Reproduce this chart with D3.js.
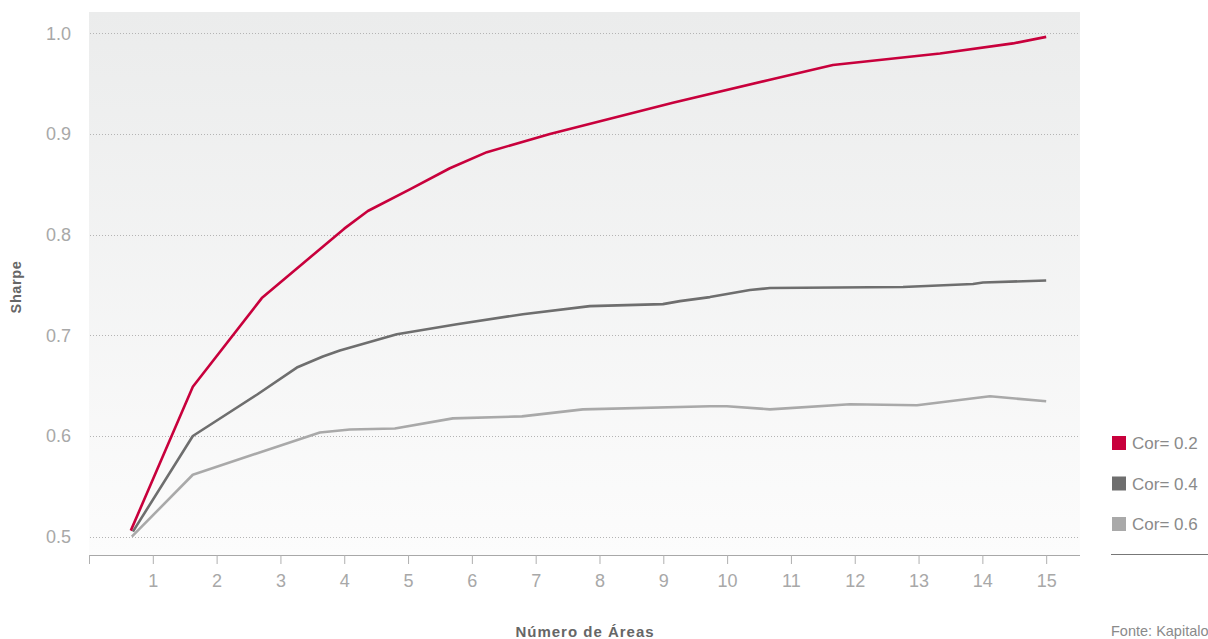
<!DOCTYPE html>
<html>
<head>
<meta charset="utf-8">
<script src="https://cdn.jsdelivr.net/npm/d3@7"></script>
<style>
  html, body { margin: 0; padding: 0; background: #ffffff; }
  svg { display: block; font-family: "Liberation Sans", Arial, Helvetica, sans-serif; }
</style>
</head>
<body>
<svg id="chart" width="1208" height="639"></svg>
<script>
// Sharpe ratio by number of areas, for three correlation levels
const seriesNames = ["Cor= 0.2", "Cor= 0.4", "Cor= 0.6"];

const areasCor02 = [0.655, 1.627, 2.708, 4.00, 4.370, 5.028, 5.655, 6.235, 7.223, 9.150, 10.671, 11.658, 13.335, 14.480, 15.0];
const sharpeCor02 = [0.506, 0.649, 0.737, 0.806, 0.8235, 0.845, 0.866, 0.882, 0.900, 0.931, 0.954, 0.9685, 0.980, 0.990, 0.9965];

const areasCor04 = [0.688, 1.627, 2.630, 3.257, 3.665, 3.931, 4.824, 5.765, 6.799, 7.849, 8.994, 9.260, 9.730, 10.357, 10.671, 12.756, 13.853, 14.010, 15.0];
const sharpeCor04 = [0.505, 0.600, 0.641, 0.668, 0.679, 0.685, 0.701, 0.711, 0.721, 0.729, 0.731, 0.734, 0.738, 0.745, 0.747, 0.748, 0.751, 0.7525, 0.7545];

const areasCor06 = [0.671, 1.627, 3.618, 4.088, 4.793, 5.702, 6.784, 7.740, 9.730, 9.997, 10.671, 11.925, 12.975, 14.119, 15.0];
const sharpeCor06 = [0.500, 0.5615, 0.6035, 0.6065, 0.6075, 0.6175, 0.6195, 0.6265, 0.6295, 0.6295, 0.6265, 0.6315, 0.6305, 0.6395, 0.6345];

const xTicks = [0, 1, 2, 3, 4, 5, 6, 7, 8, 9, 10, 11, 12, 13, 14, 15];
const yTicks = [0.5, 0.6, 0.7, 0.8, 0.9, 1.0];
const colors = ["#c8003c", "#6e6e6e", "#a9a9a9"];

const series = [
  { name: seriesNames[0], xs: areasCor02, ys: sharpeCor02, color: colors[0] },
  { name: seriesNames[1], xs: areasCor04, ys: sharpeCor04, color: colors[1] },
  { name: seriesNames[2], xs: areasCor06, ys: sharpeCor06, color: colors[2] }
];

const svg = d3.select("#chart");
const plot = { left: 89, right: 1080, top: 12, bottom: 555 };

const x = d3.scaleLinear().domain([0, 15.53]).range([plot.left, plot.right]);
const y = d3.scaleLinear().domain([0.4818, 1.0212]).range([plot.bottom, plot.top]);

// Plot background: soft vertical gradient
const defs = svg.append("defs");
const grad = defs.append("linearGradient")
  .attr("id", "bg").attr("x1", 0).attr("y1", 0).attr("x2", 0).attr("y2", 1);
grad.append("stop").attr("offset", "0%").attr("stop-color", "#ebecec");
grad.append("stop").attr("offset", "100%").attr("stop-color", "#fcfcfc");

svg.append("rect")
  .attr("x", plot.left).attr("y", plot.top)
  .attr("width", plot.right - plot.left).attr("height", plot.bottom - plot.top)
  .attr("fill", "url(#bg)");

// Horizontal dotted gridlines
svg.append("g")
  .selectAll("line")
  .data(yTicks)
  .join("line")
  .attr("x1", plot.left + 1).attr("x2", plot.right)
  .attr("y1", d => Math.round(y(d)) + 0.5).attr("y2", d => Math.round(y(d)) + 0.5)
  .attr("stroke", "#b4b4b4")
  .attr("stroke-width", 1)
  .attr("stroke-dasharray", "1 2");

// Y axis labels
const yAxis = d3.axisLeft(y).tickValues(yTicks).tickFormat(d3.format(".1f")).tickSize(0).tickPadding(0);
const gy = svg.append("g").attr("transform", `translate(${71},0)`).call(yAxis);
gy.select(".domain").remove();
gy.selectAll("text")
  .attr("fill", "#a8a8a8")
  .style("font-size", "18px")
  .style("font-family", "'Liberation Sans', Arial, sans-serif");

// X axis
const xAxis = d3.axisBottom(x).tickValues(xTicks)
  .tickFormat(d => d === 0 ? "" : d)
  .tickSizeInner(9).tickSizeOuter(0).tickPadding(10);
const gx = svg.append("g").attr("transform", `translate(0,${plot.bottom})`).call(xAxis);
gx.select(".domain").attr("stroke", "#a8a8a8").attr("d", `M${plot.left},0.5H${plot.right}`);
gx.selectAll(".tick line").attr("stroke", "#b0b0b0");
gx.selectAll("text")
  .attr("fill", "#a8a8a8")
  .style("font-size", "18px")
  .style("font-family", "'Liberation Sans', Arial, sans-serif");

// Series lines
const line = d3.line()
  .x(d => x(d[0]))
  .y(d => y(d[1]))
  .curve(d3.curveLinear);

svg.append("g")
  .selectAll("path")
  .data(series.slice().reverse())
  .join("path")
  .attr("d", s => line(d3.zip(s.xs, s.ys)))
  .attr("fill", "none")
  .attr("stroke", s => s.color)
  .attr("stroke-width", 2.6)
  .attr("stroke-linejoin", "round");

// Axis titles
svg.append("text")
  .attr("transform", "translate(21,287) rotate(-90)")
  .attr("text-anchor", "middle")
  .attr("fill", "#666666")
  .style("font-size", "14.5px")
  .style("font-weight", "bold")
  .style("letter-spacing", "0.6px")
  .text("Sharpe");

svg.append("text")
  .attr("x", 585).attr("y", 637)
  .attr("text-anchor", "middle")
  .attr("fill", "#666666")
  .style("font-size", "15px")
  .style("font-weight", "bold")
  .style("letter-spacing", "1px")
  .text("Número de Áreas");

// Legend
const legend = svg.append("g").attr("transform", "translate(1112,436)");
const item = legend.selectAll("g")
  .data(series)
  .join("g")
  .attr("transform", (d, i) => `translate(0,${i * 40.5})`);
item.append("rect")
  .attr("width", 14).attr("height", 14)
  .attr("fill", d => d.color);
item.append("text")
  .attr("x", 20).attr("y", 13)
  .attr("fill", "#8a8a8a")
  .style("font-size", "17px")
  .text(d => d.name);

svg.append("line")
  .attr("x1", 1111).attr("x2", 1208)
  .attr("y1", 554.5).attr("y2", 554.5)
  .attr("stroke", "#777777")
  .attr("stroke-width", 1);

svg.append("text")
  .attr("x", 1111).attr("y", 636)
  .attr("fill", "#8a8a8a")
  .style("font-size", "14.5px")
  .text("Fonte: Kapitalo");
</script>
</body>
</html>
